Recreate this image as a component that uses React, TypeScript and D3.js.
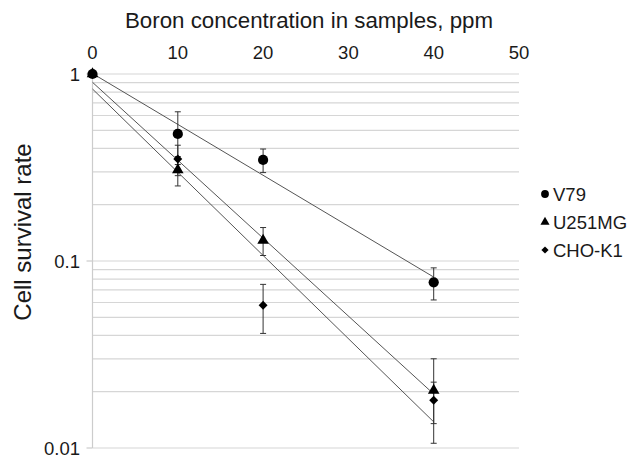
import React from "react";
import * as d3 from "d3";

const concentrations = [0, 10, 20, 40];
const seriesNames = ["V79", "U251MG", "CHO-K1"];
const v79 = [1, 0.478, 0.347, 0.0769];
const v79Err = [0, 0.15, 0.05, 0.015];
const u251 = [1, 0.307, 0.129, 0.0203];
const u251Err = [0, 0.055, 0.022, 0.0097];
const cho = [1, 0.351, 0.058, 0.018];
const choErr = [0, 0.065, 0.017, 0.0045];
const xTicks = [0, 10, 20, 30, 40, 50];
const yTickLabels = [1, 0.1, 0.01];

const W = 632, H = 459;
const x = d3.scaleLinear().domain([0, 50]).range([92.5, 519]);
const y = d3.scaleLog().domain([0.01, 1]).range([448, 74]);

function expFit(xs: number[], ys: number[]) {
  const ly = ys.map(Math.log);
  const mx = d3.mean(xs)!, my = d3.mean(ly)!;
  let sxy = 0, sxx = 0;
  xs.forEach((v, i) => { sxy += (v - mx) * (ly[i] - my); sxx += (v - mx) ** 2; });
  const b = sxy / sxx;
  const a = my - b * mx;
  return (v: number) => Math.exp(a + b * v);
}

const diamond = {
  draw(ctx: any, size: number) {
    const r = Math.sqrt(size / 2);
    ctx.moveTo(0, -r); ctx.lineTo(r, 0); ctx.lineTo(0, r); ctx.lineTo(-r, 0); ctx.closePath();
  },
};

const series = [
  { name: seriesNames[0], vals: v79, err: v79Err, shape: d3.symbolCircle as any, size: 82, legSize: 48 },
  { name: seriesNames[1], vals: u251, err: u251Err, shape: d3.symbolTriangle as any, size: 58, legSize: 36 },
  { name: seriesNames[2], vals: cho, err: choErr, shape: diamond as any, size: 40, legSize: 26 },
];

const gridVals: number[] = [];
for (let d = 0.01; d < 1; d *= 10) for (let k = 1; k <= 9; k++) gridVals.push(+(d * k).toPrecision(3));
gridVals.push(1);

export default function App() {
  const font = "'Liberation Sans', Arial, sans-serif";
  return (
    <svg width={W} height={H} style={{ position: "absolute", left: 0, top: 0, background: "#fff" }} fontFamily={font}>
      <rect width={W} height={H} fill="#fff" />
      {gridVals.map((g) => (
        <line key={g} x1={x(0)} x2={x(50)} y1={y(g)} y2={y(g)} stroke="#d6d6d6" strokeWidth={1.2} />
      ))}
      <line x1={x(0)} x2={x(0)} y1={y(1)} y2={y(0.01)} stroke="#cccccc" strokeWidth={1.2} />
      {yTickLabels.map((t) => (
        <g key={t}>
          <line x1={x(0) - 6} x2={x(0)} y1={y(t)} y2={y(t)} stroke="#cccccc" strokeWidth={1.2} />
          <text x={80} y={y(t)} dy="0.36em" textAnchor="end" fontSize={18.5} fill="#1a1a1a">{t}</text>
        </g>
      ))}
      {xTicks.map((t) => (
        <text key={t} x={x(t)} y={59} textAnchor="middle" fontSize={18.5} fill="#1a1a1a">{t}</text>
      ))}
      <text x={309} y={28} textAnchor="middle" fontSize={22.3} fill="#1a1a1a">Boron concentration in samples, ppm</text>
      <text transform="translate(31,232) rotate(-90)" textAnchor="middle" fontSize={24} fill="#1a1a1a">Cell survival rate</text>
      {series.map((s) => {
        const f = expFit(concentrations, s.vals);
        const pts: [number, number][] = [[x(0), y(f(0))], [x(40), y(f(40))]];
        return <path key={s.name + "fit"} d={d3.line()(pts) || ""} stroke="#555" strokeWidth={1} fill="none" />;
      })}
      {series.map((s) => (
        <g key={s.name + "err"}>
          {concentrations.map((c, i) => s.err[i] > 0 ? (
            <g key={c} stroke="#333" strokeWidth={1}>
              <line x1={x(c)} x2={x(c)} y1={y(s.vals[i] + s.err[i])} y2={y(s.vals[i] - s.err[i])} />
              <line x1={x(c) - 3} x2={x(c) + 3} y1={y(s.vals[i] + s.err[i])} y2={y(s.vals[i] + s.err[i])} />
              <line x1={x(c) - 3} x2={x(c) + 3} y1={y(s.vals[i] - s.err[i])} y2={y(s.vals[i] - s.err[i])} />
            </g>
          ) : null)}
        </g>
      ))}
      {[...series].reverse().map((s) => (
        <g key={s.name + "pts"}>
          {concentrations.map((c, i) => (
            <path key={c} transform={`translate(${x(c)},${y(s.vals[i])})`} d={d3.symbol().type(s.shape).size(s.size)() || ""} fill="#000" />
          ))}
        </g>
      ))}
      {series.map((s, i) => (
        <g key={s.name + "leg"} transform={`translate(545,${194 + i * 28})`}>
          <path d={d3.symbol().type(s.shape).size(s.legSize)() || ""} fill="#000" />
          <text x={8} y={0} dy="0.36em" fontSize={18.5} fill="#1a1a1a">{s.name}</text>
        </g>
      ))}
    </svg>
  );
}
